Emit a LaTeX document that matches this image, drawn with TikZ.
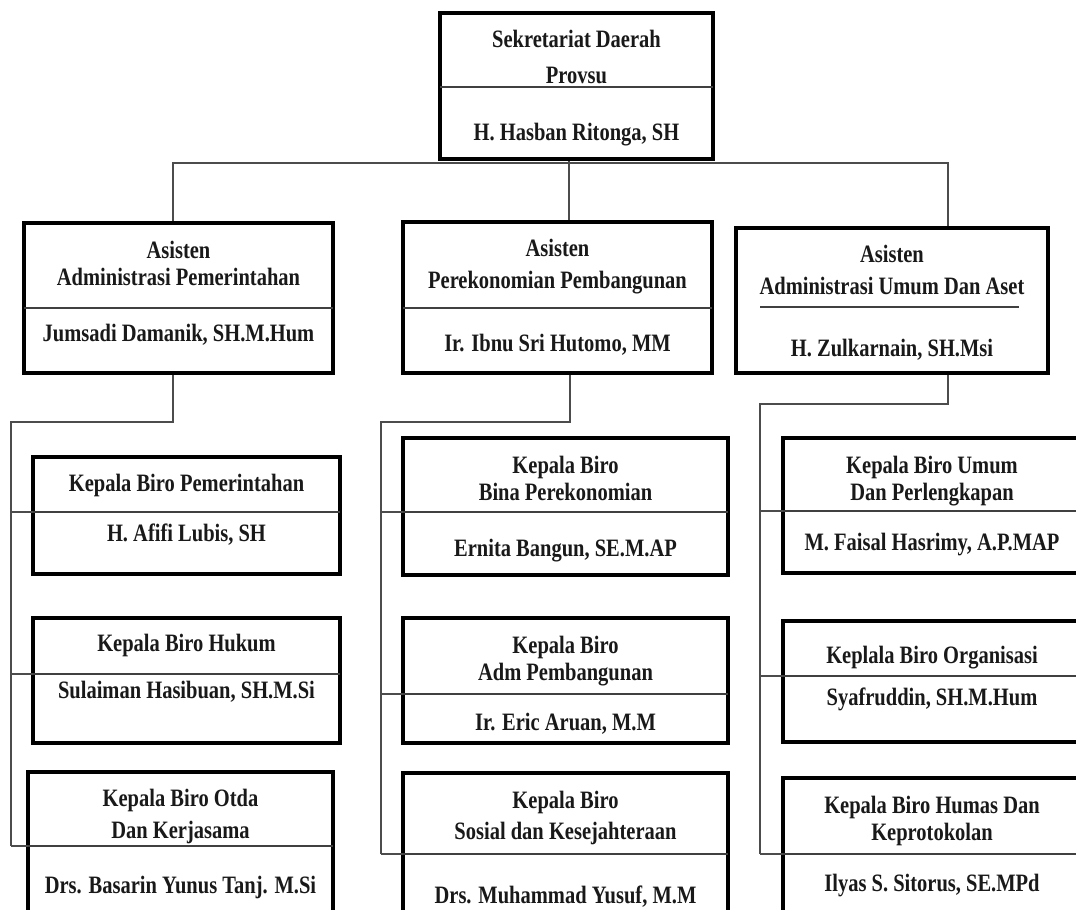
\documentclass[tikz,border=0pt]{standalone}
\usepackage{fontspec}
\setmainfont{Liberation Serif}
\newfontfamily\orgfont{Liberation Serif}[FakeStretch=0.82]
\begin{document}
\begin{tikzpicture}[x=1pt,y=-1pt,
  box/.style={draw=black,line width=4pt,inner sep=0pt},
  conn/.style={draw=black!70,line width=1.4pt},
  divl/.style={draw=black!75,line width=1.6pt},
  txt/.style={font=\orgfont\bfseries\fontsize{25}{28}\selectfont,anchor=base,inner sep=0pt,text=black!90}]
\clip (0,0) rectangle (1076,910);
\fill[white] (0,0) rectangle (1076,910);
\newcommand\orgbox[6]{%
  \node[box,minimum width={#4-#2},minimum height={#5-#3}] (#1) at ({(#2+#4)/2},{(#3+#5)/2}) {};
  \coordinate (#1-dw) at (#2,#6);
  \coordinate (#1-de) at (#4,#6);
  \draw[divl] (#1-dw) -- (#1-de);}
% connectors
\coordinate (hubL) at (173,163);
\coordinate (hubM) at (569,163);
\coordinate (hubR) at (948,163);
\coordinate (eL) at (173,422);
\coordinate (sL) at (11,422);
\coordinate (eM) at (570,422);
\coordinate (sM) at (381,422);
\coordinate (eR) at (948,404);
\coordinate (sR) at (760,404);
% boxes
\orgbox{top}{440}{13}{713}{159}{87}
\orgbox{a1}{24}{223}{333}{373}{308}
\orgbox{a2}{403}{222}{712}{373}{308}
\node[box,minimum width=312,minimum height=145] (a3) at (892,300.5) {};
\orgbox{b11}{33}{457}{340}{574}{512}
\orgbox{b12}{33}{618}{340}{743}{674}
\orgbox{b13}{28}{772}{333}{940}{846}
\orgbox{b21}{403}{438}{728}{575}{512}
\orgbox{b22}{403}{618}{728}{743}{694}
\orgbox{b23}{403}{773}{728}{940}{854}
\orgbox{b31}{783}{438}{1100}{573}{511}
\orgbox{b32}{783}{621}{1100}{742}{676}
\orgbox{b33}{783}{778}{1100}{940}{854}
\draw[divl] (760,307) -- (1019,307);
\draw[conn] (top.south -| hubM) -- (hubM);
\draw[conn] (a1.north -| hubL) -- (hubL) -- (hubR) -- (a3.north -| hubR);
\draw[conn] (hubM) -- (a2.north -| hubM);
\draw[conn] (a1.south -| eL) -- (eL) -- (sL) -- (sL |- b13-dw);
\draw[conn] (sL |- b11-dw) -- (b11-dw);
\draw[conn] (sL |- b12-dw) -- (b12-dw);
\draw[conn] (sL |- b13-dw) -- (b13-dw);
\draw[conn] (a2.south -| eM) -- (eM) -- (sM) -- (sM |- b23-dw);
\draw[conn] (sM |- b21-dw) -- (b21-dw);
\draw[conn] (sM |- b22-dw) -- (b22-dw);
\draw[conn] (sM |- b23-dw) -- (b23-dw);
\draw[conn] (a3.south -| eR) -- (eR) -- (sR) -- (sR |- b33-dw);
\draw[conn] (sR |- b31-dw) -- (b31-dw);
\draw[conn] (sR |- b32-dw) -- (b32-dw);
\draw[conn] (sR |- b33-dw) -- (b33-dw);
% texts
\node[txt] (t0a) at (576.5,47) {Sekretariat Daerah};
\node[txt] (t0b) at (576.5,83) {Provsu};
\node[txt] (t0c) at (576.5,140) {H. Hasban Ritonga, SH};
\node[txt] (t1a) at (178.5,258) {Asisten};
\node[txt] (t1b) at (178.5,285) {Administrasi Pemerintahan};
\node[txt] (t1c) at (178.5,341) {Jumsadi Damanik, SH.M.Hum};
\node[txt] (t2a) at (557.5,256) {Asisten};
\node[txt] (t2b) at (557.5,288) {Perekonomian Pembangunan};
\node[txt] (t2c) at (557.5,351) {Ir. Ibnu Sri Hutomo, MM};
\node[txt] (t3a) at (892,262) {Asisten};
\node[txt] (t3b) at (892,294) {Administrasi Umum Dan Aset};
\node[txt] (t3c) at (892,356) {H. Zulkarnain, SH.Msi};
\node[txt] (u1a) at (186.5,491) {Kepala Biro Pemerintahan};
\node[txt] (u1b) at (186.5,541) {H. Afifi Lubis, SH};
\node[txt] (u2a) at (186.5,651) {Kepala Biro Hukum};
\node[txt] (u2b) at (186.5,698) {Sulaiman Hasibuan, SH.M.Si};
\node[txt] (u3a) at (180.5,806) {Kepala Biro Otda};
\node[txt] (u3b) at (180.5,838) {Dan Kerjasama};
\node[txt] (u3c) at (180.5,893) {Drs. Basarin Yunus Tanj. M.Si};
\node[txt] (v1a) at (565.5,473) {Kepala Biro};
\node[txt] (v1b) at (565.5,500) {Bina Perekonomian};
\node[txt] (v1c) at (565.5,556) {Ernita Bangun, SE.M.AP};
\node[txt] (v2a) at (565.5,653) {Kepala Biro};
\node[txt] (v2b) at (565.5,680) {Adm Pembangunan};
\node[txt] (v2c) at (565.5,730) {Ir. Eric Aruan, M.M};
\node[txt] (v3a) at (565.5,808) {Kepala Biro};
\node[txt] (v3b) at (565.5,839) {Sosial dan Kesejahteraan};
\node[txt] (v3c) at (565.5,903) {Drs. Muhammad Yusuf, M.M};
\node[txt] (w1a) at (932,473) {Kepala Biro Umum};
\node[txt] (w1b) at (932,500) {Dan Perlengkapan};
\node[txt] (w1c) at (932,550) {M. Faisal Hasrimy, A.P.MAP};
\node[txt] (w2a) at (932,663) {Keplala Biro Organisasi};
\node[txt] (w2b) at (932,705) {Syafruddin, SH.M.Hum};
\node[txt] (w3a) at (932,813) {Kepala Biro Humas Dan};
\node[txt] (w3b) at (932,840) {Keprotokolan};
\node[txt] (w3c) at (932,891) {Ilyas S. Sitorus, SE.MPd};
\end{tikzpicture}
\end{document}
